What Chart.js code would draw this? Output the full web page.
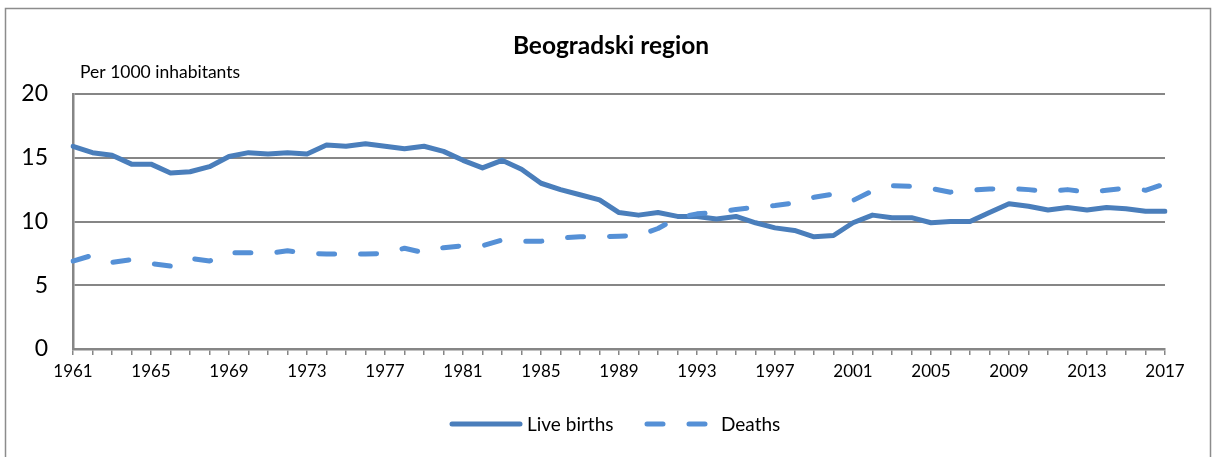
<!DOCTYPE html>
<html>
<head>
<meta charset="utf-8">
<script src="https://cdn.jsdelivr.net/npm/chart.js@4.4.1/dist/chart.umd.min.js"></script>
<style>
    html, body { margin: 0; padding: 0; background: #fff; }
    #wrap { position: relative; width: 1213px; height: 457px; }
</style>
</head>
<body>
<div id="wrap"><canvas id="chart" width="1213" height="457"></canvas></div>
<script>
// ===== Data =====
const years = [1961, 1962, 1963, 1964, 1965, 1966, 1967, 1968, 1969, 1970,
    1971, 1972, 1973, 1974, 1975, 1976, 1977, 1978, 1979, 1980,
    1981, 1982, 1983, 1984, 1985, 1986, 1987, 1988, 1989, 1990,
    1991, 1992, 1993, 1994, 1995, 1996, 1997, 1998, 1999, 2000,
    2001, 2002, 2003, 2004, 2005, 2006, 2007, 2008, 2009, 2010,
    2011, 2012, 2013, 2014, 2015, 2016, 2017];

const liveBirths = [15.9, 15.4, 15.2, 14.5, 14.5, 13.8, 13.9, 14.3, 15.1, 15.4,
    15.3, 15.4, 15.3, 16.0, 15.9, 16.1, 15.9, 15.7, 15.9, 15.5,
    14.8, 14.2, 14.8, 14.1, 13.0, 12.5, 12.1, 11.7, 10.7, 10.5,
    10.7, 10.4, 10.4, 10.2, 10.4, 9.9, 9.5, 9.3, 8.8, 8.9,
    9.9, 10.5, 10.3, 10.3, 9.9, 10.0, 10.0, 10.7, 11.4, 11.2,
    10.9, 11.1, 10.9, 11.1, 11.0, 10.8, 10.8];

const deaths = [6.9, 7.35, 6.8, 7.0, 6.7, 6.5, 7.1, 6.9, 7.55, 7.55,
    7.5, 7.7, 7.5, 7.45, 7.45, 7.45, 7.5, 7.9, 7.55, 7.95,
    8.1, 8.1, 8.55, 8.45, 8.45, 8.7, 8.8, 8.8, 8.85, 8.9,
    9.45, 10.3, 10.6, 10.7, 10.95, 11.1, 11.25, 11.45, 11.9, 12.15,
    11.65, 12.4, 12.8, 12.75, 12.6, 12.3, 12.45, 12.55, 12.6, 12.5,
    12.35, 12.5, 12.3, 12.45, 12.6, 12.45, 12.95];

const yTicks = [0, 5, 10, 15, 20];
const titleText = 'Beogradski region';
const unitText = 'Per 1000 inhabitants';

const FONT = "Lato, 'Noto Sans', sans-serif";
const AXIS_GRAY = '#868686';

// ===== Frame, titles and legend =====
const decorPlugin = {
    id: 'decor',
    beforeDraw(chart) {
        const ctx = chart.ctx;
        ctx.save();
        ctx.fillStyle = '#fff';
        ctx.fillRect(0, 0, chart.width, chart.height);
        ctx.strokeStyle = '#8c8c8c';
        ctx.lineWidth = 1.5;
        ctx.strokeRect(5.5, 8.5, 1205, 470);
        ctx.restore();
    },
    afterDraw(chart) {
        const ctx = chart.ctx;
        ctx.save();
        ctx.fillStyle = '#000';
        ctx.textBaseline = 'middle';
        ctx.textAlign = 'center';
        ctx.font = 'bold 24.5px ' + FONT;
        ctx.fillText(titleText, 611, 46);
        ctx.textAlign = 'left';
        ctx.font = '17.5px ' + FONT;
        ctx.fillText(unitText, 80, 72);

        // legend
        const ly = 424;
        const items = [
            { ds: chart.data.datasets[0], x0: 452, x1: 520, tx: 527 },
            { ds: chart.data.datasets[1], x0: 647, x1: 707, tx: 721 }
        ];
        items.forEach(it => {
            ctx.beginPath();
            ctx.strokeStyle = it.ds.borderColor;
            ctx.lineWidth = it.ds.borderWidth;
            ctx.lineCap = 'round';
            ctx.setLineDash(it.ds.borderDash || []);
            ctx.moveTo(it.x0, ly);
            ctx.lineTo(it.x1, ly);
            ctx.stroke();
            ctx.setLineDash([]);
            ctx.fillStyle = '#000';
            ctx.font = '19px ' + FONT;
            ctx.fillText(it.ds.label, it.tx, ly + 1);
        });
        ctx.restore();
    }
};

// ===== Chart =====
const ctx = document.getElementById('chart').getContext('2d');
new Chart(ctx, {
    type: 'line',
    data: {
        labels: years,
        datasets: [{
            label: 'Live births',
            data: liveBirths,
            borderColor: '#4a7ebb',
            borderWidth: 5,
            borderCapStyle: 'round',
            borderJoinStyle: 'round',
            pointRadius: 0,
            tension: 0,
            fill: false,
            order: 1
        }, {
            label: 'Deaths',
            data: deaths,
            borderColor: '#5590d6',
            borderWidth: 5,
            borderDash: [16, 26],
            borderCapStyle: 'round',
            borderJoinStyle: 'round',
            pointRadius: 0,
            tension: 0,
            fill: false,
            order: 0
        }]
    },
    options: {
        responsive: false,
        animation: false,
        devicePixelRatio: 1,
        layout: { padding: { top: 94, right: 48, left: 0, bottom: 0 } },
        plugins: {
            legend: { display: false },
            tooltip: { enabled: false },
            title: { display: false }
        },
        scales: {
            x: {
                type: 'category',
                offset: false,
                afterFit(scale) { scale.height = 108; },
                grid: {
                    display: true,
                    drawOnChartArea: false,
                    drawTicks: true,
                    tickLength: 6,
                    color: AXIS_GRAY,
                    lineWidth: 1.5
                },
                border: { display: true, color: AXIS_GRAY, width: 2.5 },
                ticks: {
                    autoSkip: false,
                    maxRotation: 0,
                    padding: 6,
                    color: '#000',
                    font: { family: FONT, size: 17 },
                    callback(value, index) {
                        return index % 4 === 0 ? years[index] : '';
                    }
                }
            },
            y: {
                min: 0,
                max: 20,
                afterFit(scale) { scale.width = 73; },
                afterBuildTicks(scale) {
                    scale.ticks = yTicks.map(v => ({ value: v }));
                },
                grid: {
                    color: AXIS_GRAY,
                    lineWidth: 2,
                    drawTicks: false
                },
                border: { display: true, color: AXIS_GRAY, width: 2.5 },
                ticks: {
                    padding: 25,
                    color: '#000',
                    font: { family: FONT, size: 23 }
                }
            }
        }
    },
    plugins: [decorPlugin]
});
</script>
</body>
</html>
